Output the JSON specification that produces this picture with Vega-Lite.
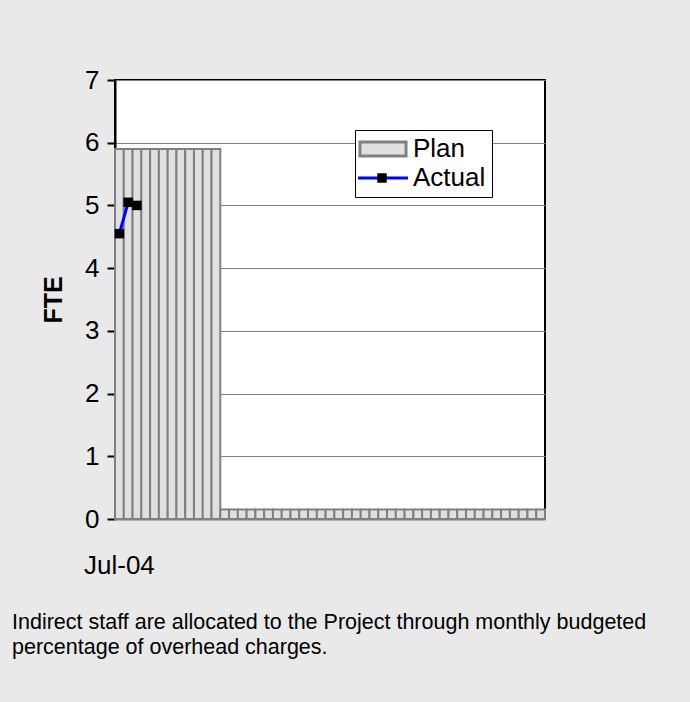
{
  "$schema": "https://vega.github.io/schema/vega-lite/v6.json",
  "autosize": {"type": "none"},
  "width": 430,
  "height": 439,
  "padding": {"left": 115, "top": 80, "right": 145, "bottom": 183},
  "background": "#e9e9e9",
  "config": {
    "font": "Liberation Sans",
    "view": {"fill": "white", "stroke": "black", "strokeWidth": 2}
  },
  "title": {
    "text": ["Indirect staff are allocated to the Project through monthly budgeted", "percentage of overhead charges."],
    "orient": "bottom",
    "anchor": "start",
    "frame": "group",
    "dx": -103,
    "offset": 34,
    "fontSize": 21.5,
    "fontWeight": "normal",
    "font": "Liberation Sans",
    "color": "black",
    "lineHeight": 25,
    "baseline": "top"
  },
  "datasets": {
    "plan": [
      {"week": 1, "series": "Plan", "fte": 5.9}, {"week": 2, "series": "Plan", "fte": 5.9}, {"week": 3, "series": "Plan", "fte": 5.9},
      {"week": 4, "series": "Plan", "fte": 5.9}, {"week": 5, "series": "Plan", "fte": 5.9}, {"week": 6, "series": "Plan", "fte": 5.9},
      {"week": 7, "series": "Plan", "fte": 5.9}, {"week": 8, "series": "Plan", "fte": 5.9}, {"week": 9, "series": "Plan", "fte": 5.9},
      {"week": 10, "series": "Plan", "fte": 5.9}, {"week": 11, "series": "Plan", "fte": 5.9}, {"week": 12, "series": "Plan", "fte": 5.9},
      {"week": 13, "series": "Plan", "fte": 0.15}, {"week": 14, "series": "Plan", "fte": 0.15}, {"week": 15, "series": "Plan", "fte": 0.15},
      {"week": 16, "series": "Plan", "fte": 0.15}, {"week": 17, "series": "Plan", "fte": 0.15}, {"week": 18, "series": "Plan", "fte": 0.15},
      {"week": 19, "series": "Plan", "fte": 0.15}, {"week": 20, "series": "Plan", "fte": 0.15}, {"week": 21, "series": "Plan", "fte": 0.15},
      {"week": 22, "series": "Plan", "fte": 0.15}, {"week": 23, "series": "Plan", "fte": 0.15}, {"week": 24, "series": "Plan", "fte": 0.15},
      {"week": 25, "series": "Plan", "fte": 0.15}, {"week": 26, "series": "Plan", "fte": 0.15}, {"week": 27, "series": "Plan", "fte": 0.15},
      {"week": 28, "series": "Plan", "fte": 0.15}, {"week": 29, "series": "Plan", "fte": 0.15}, {"week": 30, "series": "Plan", "fte": 0.15},
      {"week": 31, "series": "Plan", "fte": 0.15}, {"week": 32, "series": "Plan", "fte": 0.15}, {"week": 33, "series": "Plan", "fte": 0.15},
      {"week": 34, "series": "Plan", "fte": 0.15}, {"week": 35, "series": "Plan", "fte": 0.15}, {"week": 36, "series": "Plan", "fte": 0.15},
      {"week": 37, "series": "Plan", "fte": 0.15}, {"week": 38, "series": "Plan", "fte": 0.15}, {"week": 39, "series": "Plan", "fte": 0.15},
      {"week": 40, "series": "Plan", "fte": 0.15}, {"week": 41, "series": "Plan", "fte": 0.15}, {"week": 42, "series": "Plan", "fte": 0.15},
      {"week": 43, "series": "Plan", "fte": 0.15}, {"week": 44, "series": "Plan", "fte": 0.15}, {"week": 45, "series": "Plan", "fte": 0.15},
      {"week": 46, "series": "Plan", "fte": 0.15}, {"week": 47, "series": "Plan", "fte": 0.15}, {"week": 48, "series": "Plan", "fte": 0.15},
      {"week": 49, "series": "Plan", "fte": 0.15}
    ],
    "actual": [
      {"week": 1, "series": "Actual", "fte": 4.55},
      {"week": 2, "series": "Actual", "fte": 5.05},
      {"week": 3, "series": "Actual", "fte": 5.0}
    ]
  },
  "encoding": {
    "x": {
      "field": "week",
      "type": "ordinal",
      "scale": {"paddingInner": 0, "paddingOuter": 0},
      "axis": {
        "title": null,
        "labelExpr": "datum.value == 1 ? 'Jul-04' : ''",
        "labelAngle": 0,
        "labelFontSize": 26,
        "labelColor": "black",
        "labelPadding": 33,
        "labelBaseline": "top",
        "labelOverlap": false,
        "ticks": false,
        "domainColor": "#808080",
        "domainWidth": 2
      }
    },
    "y": {
      "field": "fte",
      "type": "quantitative",
      "scale": {"domain": [0, 7], "nice": false},
      "axis": {
        "title": "FTE",
        "titleFontSize": 25,
        "titleFontWeight": "bold",
        "titleColor": "black",
        "titlePadding": 18,
        "values": [0, 1, 2, 3, 4, 5, 6, 7],
        "labelFontSize": 26,
        "labelColor": "black",
        "labelPadding": 8,
        "tickSize": 8,
        "tickColor": "black",
        "tickWidth": 2,
        "domainColor": "black",
        "domainWidth": 2,
        "gridColor": "#808080",
        "gridWidth": 1
      }
    }
  },
  "layer": [
    {
      "data": {"name": "plan"},
      "mark": {"type": "bar", "strokeWidth": 2, "opacity": 1},
      "encoding": {
        "color": {
          "field": "series",
          "type": "nominal",
          "scale": {"domain": ["Plan", "Actual"], "range": ["#e0e0e0", "#0000ff"]},
          "legend": {
            "orient": "none",
            "legendX": 240,
            "legendY": 50,
            "title": null,
            "padding": 6,
            "strokeColor": "black",
            "fillColor": "white",
            "labelFontSize": 26,
            "labelColor": "black",
            "labelOffset": 17,
            "rowPadding": 3,
            "symbolSize": 196,
            "symbolOffset": 9,
            "symbolStrokeWidth": 3,
            "symbolOpacity": 1,
            "zindex": 1
          }
        },
        "stroke": {
          "field": "series",
          "type": "nominal",
          "scale": {"domain": ["Plan", "Actual"], "range": ["#808080", "#0000ff"]},
          "legend": {"title": null}
        }
      }
    },
    {
      "data": {"name": "actual"},
      "mark": {"type": "line", "strokeWidth": 3},
      "encoding": {
        "stroke": {"field": "series", "type": "nominal", "legend": {"title": null}}
      }
    },
    {
      "data": {"name": "actual"},
      "transform": [{"filter": "false"}],
      "mark": {"type": "point"},
      "encoding": {
        "shape": {
          "field": "series",
          "type": "nominal",
          "scale": {"domain": ["Plan", "Actual"], "range": ["M-3.29,-1H3.29V1H-3.29Z", "M-3.57,0H3.57"]},
          "legend": {"title": null}
        }
      }
    },
    {
      "data": {"name": "actual"},
      "mark": {"type": "point", "filled": true, "shape": "square", "opacity": 1, "size": 90},
      "encoding": {
        "fill": {
          "field": "series",
          "type": "nominal",
          "scale": {"domain": ["Actual"], "range": ["black"]},
          "legend": {
            "orient": "none",
            "legendX": 254,
            "legendY": 85,
            "title": null,
            "padding": 0,
            "labelExpr": "''",
            "labelFontSize": 26,
            "symbolSize": 90,
            "symbolType": "square",
            "symbolOpacity": 1,
            "zindex": 2
          }
        }
      }
    }
  ]
}
